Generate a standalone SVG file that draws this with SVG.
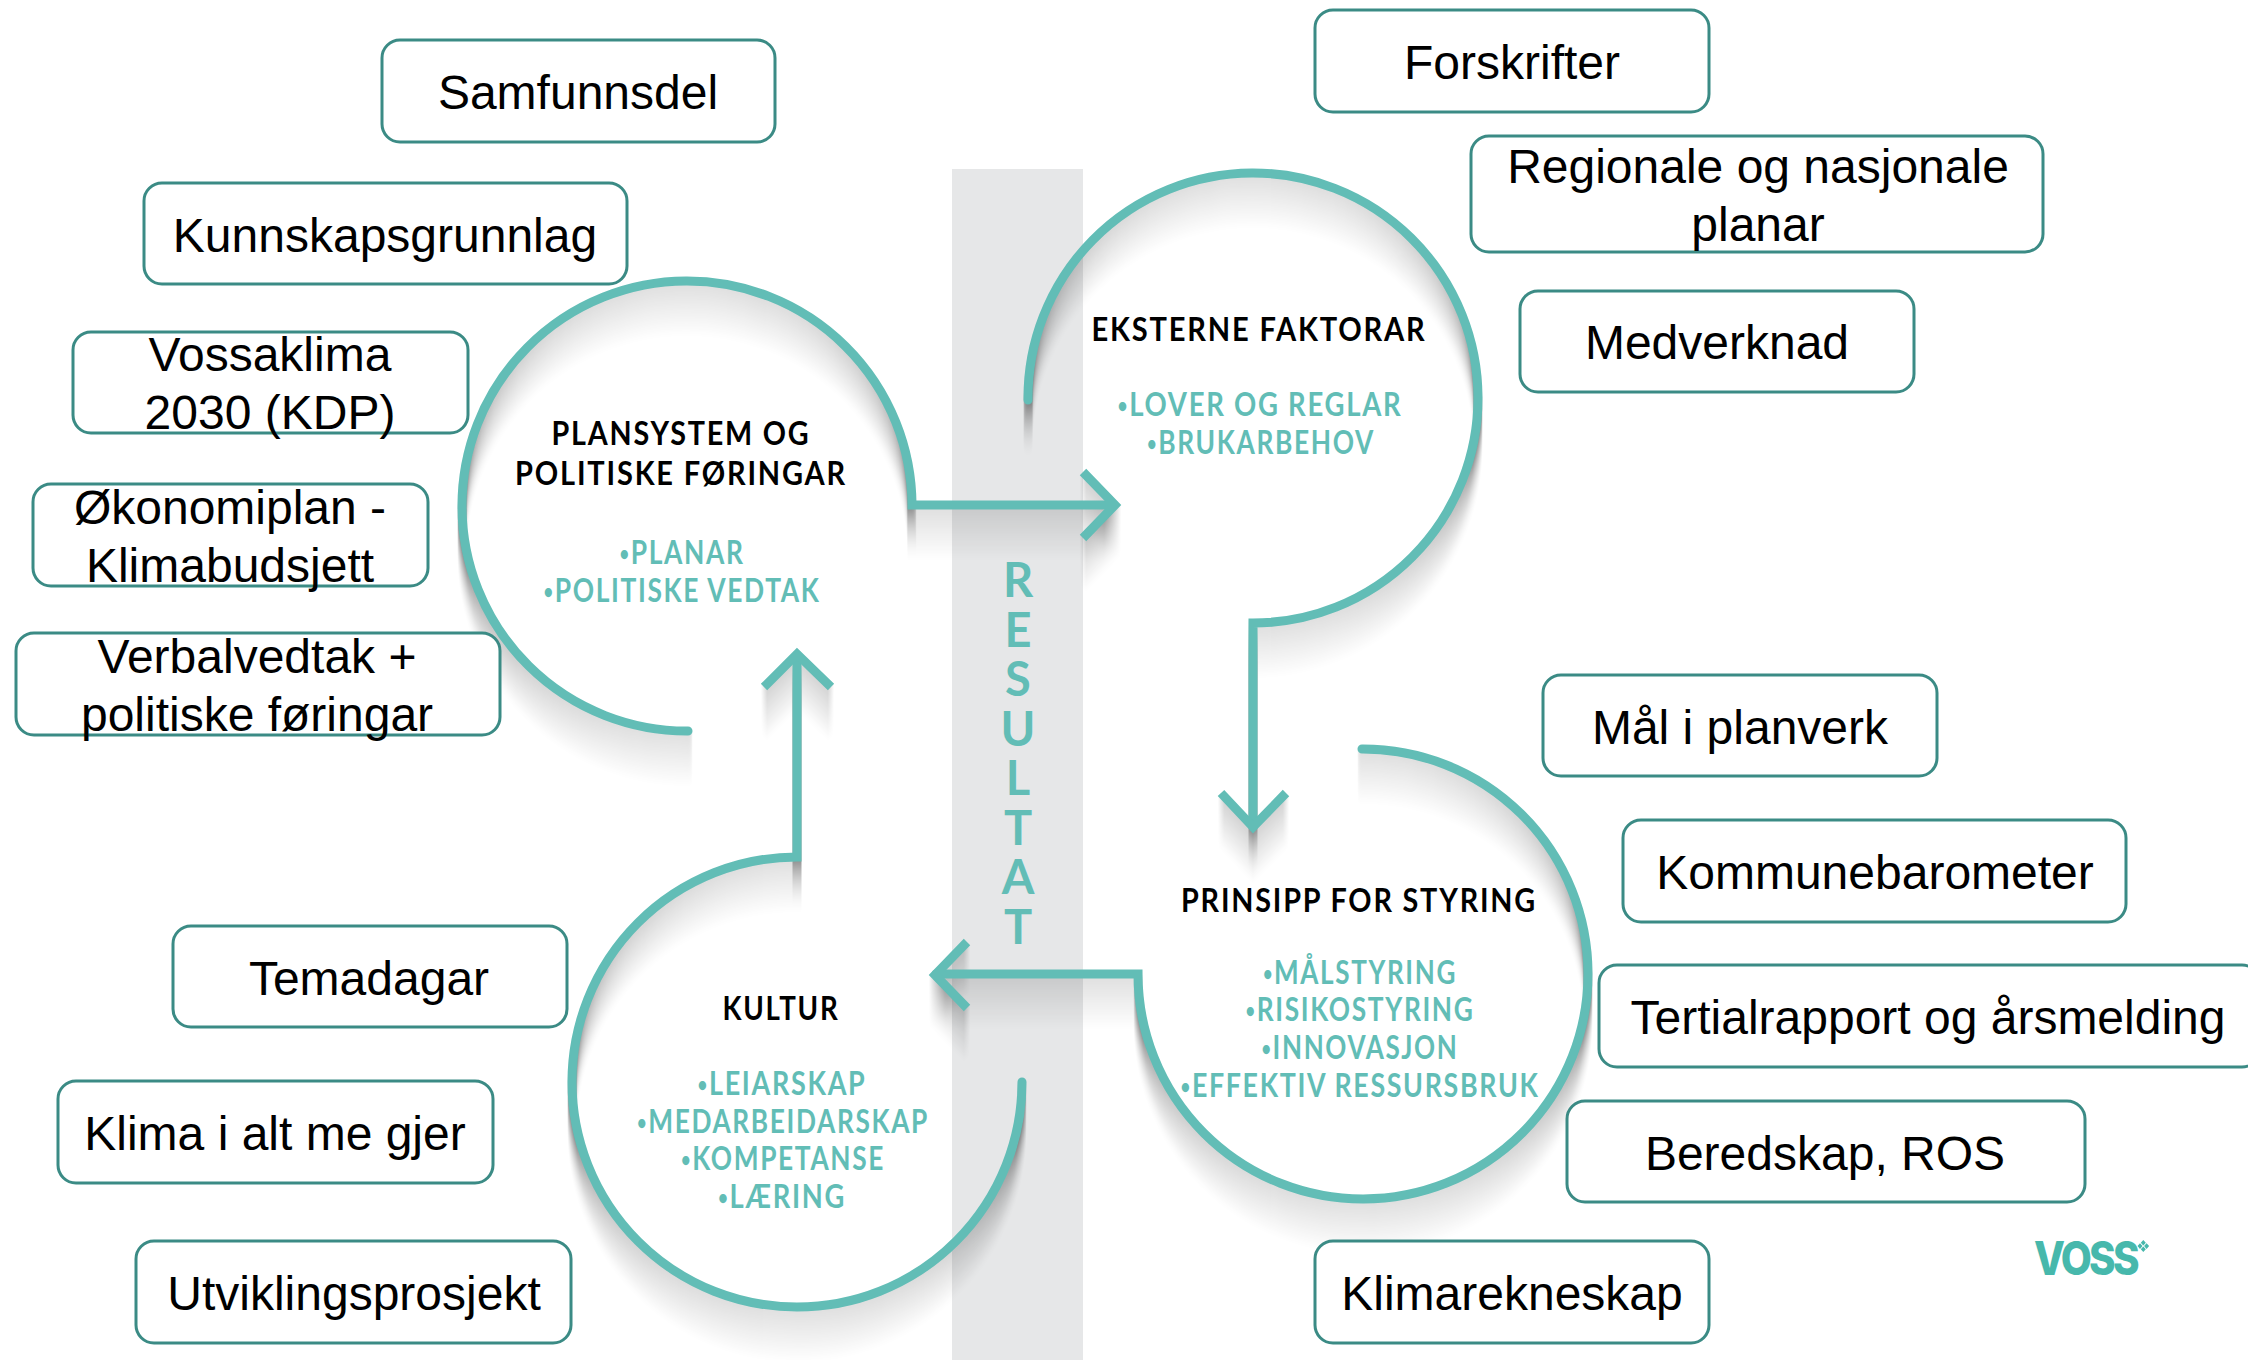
<svg xmlns="http://www.w3.org/2000/svg" width="2248" height="1360" viewBox="0 0 2248 1360">
<style>
.b{fill:#fff;stroke:#3b8b85;stroke-width:3}
.bt{font-family:"Liberation Sans",Arial,sans-serif;font-size:48px;fill:#000;text-anchor:middle}
.t{font-family:Lato,"Open Sans",sans-serif;font-weight:700;font-size:32px;letter-spacing:2px;fill:#000;text-anchor:middle}
.g{font-family:Lato,"Open Sans",sans-serif;font-weight:700;font-size:32px;letter-spacing:2px;fill:#62bdb6;text-anchor:middle}
.d{font-size:20px}
.r{font-family:Lato,"Open Sans",sans-serif;font-weight:700;font-size:47px;fill:#62bdb6;text-anchor:middle}
.c{fill:none;stroke:#62bdb6;stroke-width:9;stroke-linecap:round;stroke-linejoin:miter}
.h{fill:none;stroke:#62bdb6;stroke-width:9;stroke-linecap:butt;stroke-linejoin:miter}
</style>
<defs>
<filter id="smear" filterUnits="userSpaceOnUse" x="0" y="0" width="2248" height="1360" color-interpolation-filters="sRGB">
<feConvolveMatrix in="SourceAlpha" order="1 56" targetX="0" targetY="55" divisor="1596" preserveAlpha="false" kernelMatrix="56 55 54 53 52 51 50 49 48 47 46 45 44 43 42 41 40 39 38 37 36 35 34 33 32 31 30 29 28 27 26 25 24 23 22 21 20 19 18 17 16 15 14 13 12 11 10 9 8 7 6 5 4 3 2 1" result="s"/>
<feComponentTransfer in="s" result="s2"><feFuncA type="linear" slope="0.42"/></feComponentTransfer>
<feMerge><feMergeNode in="s2"/><feMergeNode in="SourceGraphic"/></feMerge>
</filter>
</defs>
<rect x="952" y="169" width="131" height="1191" fill="#e6e7e8"/>
<g id="connectors" filter="url(#smear)">
<path class="c" d="M688 731A225 225 0 1 1 912 505L1114 505"/>
<path class="h" d="M1083 472L1115 505L1083 538"/>
<path class="c" d="M1028 400A225 225 0 1 1 1253 623L1253 826"/>
<path class="h" d="M1221 793L1253 827L1286 793"/>
<path class="c" d="M1362 749A225 225 0 1 1 1138 974L936 974"/>
<path class="h" d="M967 942L935 975L967 1008"/>
<path class="c" d="M1022 1082A225 225 0 1 1 797 857L797 655"/>
<path class="h" d="M764 687L797 654L831 687"/>
</g>
<g id="n-samfunnsdel"><rect class="b" x="382" y="40" width="393" height="102" rx="18"/><text class="bt" x="578" y="109">Samfunnsdel</text></g>
<g id="n-kunnskap"><rect class="b" x="144" y="183" width="483" height="101" rx="18"/><text class="bt" x="385" y="252">Kunnskapsgrunnlag</text></g>
<g id="n-vossaklima"><rect class="b" x="73" y="332" width="395" height="101" rx="18"/><text class="bt" x="270" y="371">Vossaklima</text><text class="bt" x="270" y="429">2030 (KDP)</text></g>
<g id="n-okonomiplan"><rect class="b" x="33" y="484" width="395" height="102" rx="18"/><text class="bt" x="230" y="524">Økonomiplan -</text><text class="bt" x="230" y="582">Klimabudsjett</text></g>
<g id="n-verbalvedtak"><rect class="b" x="16" y="633" width="484" height="102" rx="18"/><text class="bt" x="257" y="673">Verbalvedtak +</text><text class="bt" x="257" y="731">politiske føringar</text></g>
<g id="n-forskrifter"><rect class="b" x="1315" y="10" width="394" height="102" rx="18"/><text class="bt" x="1512" y="79">Forskrifter</text></g>
<g id="n-regionale"><rect class="b" x="1471" y="136" width="572" height="116" rx="18"/><text class="bt" x="1758" y="183">Regionale og nasjonale</text><text class="bt" x="1758" y="241">planar</text></g>
<g id="n-medverknad"><rect class="b" x="1520" y="291" width="394" height="101" rx="18"/><text class="bt" x="1717" y="359">Medverknad</text></g>
<g id="n-mal"><rect class="b" x="1543" y="675" width="394" height="101" rx="18"/><text class="bt" x="1740" y="744">Mål i planverk</text></g>
<g id="n-kommunebarometer"><rect class="b" x="1623" y="820" width="503" height="102" rx="18"/><text class="bt" x="1875" y="889">Kommunebarometer</text></g>
<g id="n-tertialrapport"><rect class="b" x="1599" y="965" width="661" height="102" rx="18"/><text class="bt" x="1928" y="1034">Tertialrapport og årsmelding</text></g>
<g id="n-beredskap"><rect class="b" x="1567" y="1101" width="518" height="101" rx="18"/><text class="bt" x="1825" y="1170">Beredskap, ROS</text></g>
<g id="n-klimarekneskap"><rect class="b" x="1315" y="1241" width="394" height="102" rx="18"/><text class="bt" x="1512" y="1310">Klimarekneskap</text></g>
<g id="n-temadagar"><rect class="b" x="173" y="926" width="394" height="101" rx="18"/><text class="bt" x="369" y="995">Temadagar</text></g>
<g id="n-klima"><rect class="b" x="58" y="1081" width="435" height="102" rx="18"/><text class="bt" x="275" y="1150">Klima i alt me gjer</text></g>
<g id="n-utvikling"><rect class="b" x="136" y="1241" width="435" height="102" rx="18"/><text class="bt" x="354" y="1310">Utviklingsprosjekt</text></g>
<g id="n-plansystem">
<text class="t" x="681" y="445" textLength="259" lengthAdjust="spacingAndGlyphs">PLANSYSTEM OG</text>
<text class="t" x="681" y="485" textLength="332" lengthAdjust="spacingAndGlyphs">POLITISKE FØRINGAR</text>
<text class="g" x="682" y="564" textLength="125" lengthAdjust="spacingAndGlyphs"><tspan class="d" dy="-3">•</tspan><tspan dy="3">PLANAR</tspan></text>
<text class="g" x="682" y="602" textLength="277" lengthAdjust="spacingAndGlyphs"><tspan class="d" dy="-3">•</tspan><tspan dy="3">POLITISKE VEDTAK</tspan></text>
</g>
<g id="n-eksterne">
<text class="t" x="1259" y="341" textLength="335" lengthAdjust="spacingAndGlyphs">EKSTERNE FAKTORAR</text>
<text class="g" x="1260" y="416" textLength="285" lengthAdjust="spacingAndGlyphs"><tspan class="d" dy="-3">•</tspan><tspan dy="3">LOVER OG REGLAR</tspan></text>
<text class="g" x="1261" y="454" textLength="228" lengthAdjust="spacingAndGlyphs"><tspan class="d" dy="-3">•</tspan><tspan dy="3">BRUKARBEHOV</tspan></text>
</g>
<g id="n-prinsipp">
<text class="t" x="1359" y="912" textLength="356" lengthAdjust="spacingAndGlyphs">PRINSIPP FOR STYRING</text>
<text class="g" x="1360" y="984" textLength="194" lengthAdjust="spacingAndGlyphs"><tspan class="d" dy="-3">•</tspan><tspan dy="3">MÅLSTYRING</tspan></text>
<text class="g" x="1360" y="1021" textLength="229" lengthAdjust="spacingAndGlyphs"><tspan class="d" dy="-3">•</tspan><tspan dy="3">RISIKOSTYRING</tspan></text>
<text class="g" x="1360" y="1059" textLength="197" lengthAdjust="spacingAndGlyphs"><tspan class="d" dy="-3">•</tspan><tspan dy="3">INNOVASJON</tspan></text>
<text class="g" x="1360" y="1097" textLength="359" lengthAdjust="spacingAndGlyphs"><tspan class="d" dy="-3">•</tspan><tspan dy="3">EFFEKTIV RESSURSBRUK</tspan></text>
</g>
<g id="n-kultur">
<text class="t" x="781" y="1020" textLength="117" lengthAdjust="spacingAndGlyphs">KULTUR</text>
<text class="g" x="782" y="1095" textLength="169" lengthAdjust="spacingAndGlyphs"><tspan class="d" dy="-3">•</tspan><tspan dy="3">LEIARSKAP</tspan></text>
<text class="g" x="783" y="1133" textLength="292" lengthAdjust="spacingAndGlyphs"><tspan class="d" dy="-3">•</tspan><tspan dy="3">MEDARBEIDARSKAP</tspan></text>
<text class="g" x="783" y="1170" textLength="204" lengthAdjust="spacingAndGlyphs"><tspan class="d" dy="-3">•</tspan><tspan dy="3">KOMPETANSE</tspan></text>
<text class="g" x="782" y="1208" textLength="128" lengthAdjust="spacingAndGlyphs"><tspan class="d" dy="-3">•</tspan><tspan dy="3">LÆRING</tspan></text>
</g>
<g id="n-resultat">
<text class="r" x="1018 1018 1018 1018 1018 1018 1018 1018" y="597 647 696 746 795 845 894 944">RESULTAT</text>
</g>
<g id="logo">
<text x="2034" y="1275" font-family="Inter,Lato,sans-serif" font-weight="800" font-size="46" letter-spacing="-3" fill="#47b8ac" textLength="103" lengthAdjust="spacingAndGlyphs">VOSS</text>
<path fill="#47b8ac" d="M2143.300 1240l2.500 2.800-2.500 2.800-2.500-2.800z M2143.300 1246.500l2.500 2.800-2.500 2.800-2.500-2.800z M2140 1243.300l2.500 2.800-2.500 2.800-2.500-2.800z M2146.600 1243.300l2.500 2.800-2.500 2.800-2.500-2.800z"/>
</g>
</svg>
